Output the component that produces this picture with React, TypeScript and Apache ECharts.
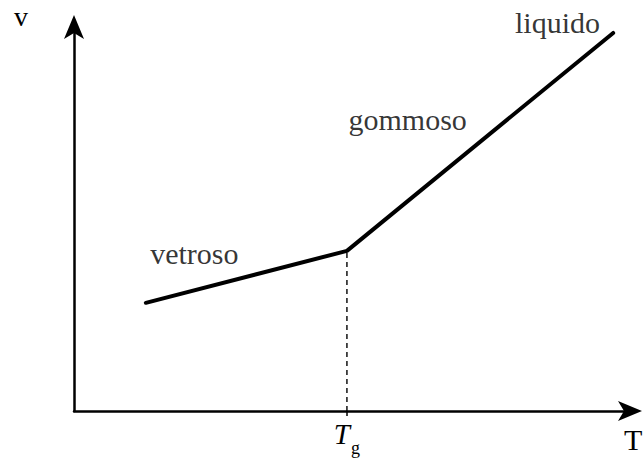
import { useEffect, useRef } from "react";
import * as echarts from "echarts";

// Specific volume vs temperature: glassy branch, rubbery/liquid branch, glass transition Tg
const temperature = [12.9, 49.0, 96.8];
const volume = [28.1, 41.6, 98.2];
const tgValue = 49.0;

// Region names and where they sit, in axis units
const regionNames = ["vetroso", "gommoso", "liquido"];
const regionT = [21.6, 59.9, 86.8];
const regionV = [40.8, 75.6, 101.0];

const SERIF = "'Liberation Serif', 'Times New Roman', serif";

export default function App() {
  const ref = useRef<HTMLDivElement>(null);

  useEffect(() => {
    if (!ref.current) return;
    const chart = echarts.init(ref.current, undefined, { renderer: "svg" });

    const curve = temperature.map((t, i) => [t, volume[i]]);
    const labels = regionNames.map((n, i) => [regionT[i], regionV[i], n]);

    const arrowLine = {
      show: true,
      symbol: ["none", "arrow"],
      symbolSize: [15, 24],
      symbolOffset: [0, 11],
      lineStyle: { color: "#000", width: 2.5 },
    };

    chart.setOption({
      animation: false,
      backgroundColor: "#ffffff",
      grid: {
        left: 74,
        right: 12,
        top: 26,
        bottom: 49,
        containLabel: false,
        outerBoundsMode: "none",
      },
      xAxis: {
        type: "value",
        min: 0,
        max: 100,
        name: "T",
        nameLocation: "end",
        nameGap: -7,
        nameTextStyle: {
          fontFamily: SERIF,
          fontSize: 30,
          color: "#000",
          align: "left",
          verticalAlign: "top",
          padding: [13, 0, 0, 0],
        },
        axisLine: arrowLine,
        axisTick: {
          show: true,
          customValues: [tgValue],
          length: 5,
          lineStyle: { color: "#000", width: 1.5 },
        },
        axisLabel: {
          show: true,
          customValues: [tgValue],
          margin: 8,
          formatter: () => "{t|T}{g|g}",
          rich: {
            t: {
              fontFamily: SERIF,
              fontStyle: "italic",
              fontSize: 29,
              color: "#000",
              lineHeight: 38,
              verticalAlign: "top",
            },
            g: {
              fontFamily: SERIF,
              fontSize: 18,
              color: "#000",
              verticalAlign: "bottom",
              padding: [0, 0, 0, 1],
            },
          },
        },
        splitLine: { show: false },
      },
      yAxis: {
        type: "value",
        min: 0,
        max: 100,
        name: "v",
        nameLocation: "end",
        nameGap: 10,
        nameTextStyle: {
          fontFamily: SERIF,
          fontSize: 28,
          color: "#000",
          align: "right",
          verticalAlign: "middle",
          padding: [0, 46, 0, 0],
        },
        axisLine: arrowLine,
        axisTick: { show: false },
        axisLabel: { show: false },
        splitLine: { show: false },
      },
      series: [
        {
          type: "line",
          data: [
            [tgValue, 0],
            [tgValue, volume[1]],
          ],
          symbol: "none",
          lineStyle: { color: "#000", width: 1.4, type: [5, 4] },
          z: 1,
        },
        {
          type: "line",
          data: curve,
          symbol: "none",
          lineStyle: { color: "#000", width: 4, cap: "round", join: "round" },
          z: 2,
        },
        {
          type: "scatter",
          data: labels,
          symbolSize: 0,
          clip: false,
          label: {
            show: true,
            position: "inside",
            formatter: (p: any) => p.data[2],
            fontFamily: SERIF,
            fontSize: 30,
            color: "#000",
          },
          z: 3,
        },
      ],
    });

    return () => chart.dispose();
  }, []);

  return (
    <div
      ref={ref}
      style={{ position: "fixed", left: 0, top: 0, width: 643, height: 460 }}
    />
  );
}
